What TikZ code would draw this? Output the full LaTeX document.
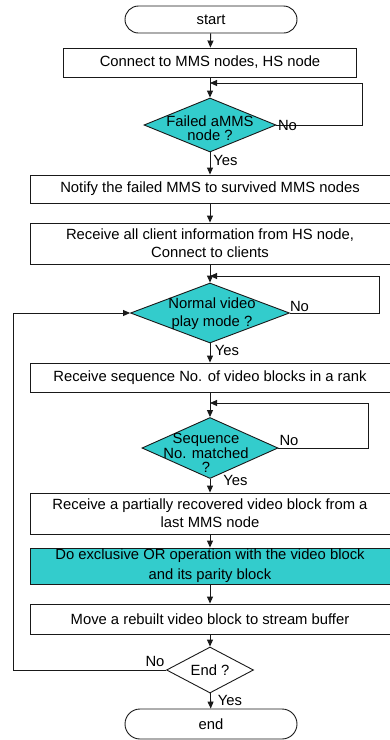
\documentclass[tikz,border=0pt]{standalone}
\usepackage{fontspec}
\setmainfont{Liberation Sans}
\usetikzlibrary{shapes.geometric,arrows.meta}
\definecolor{tealfill}{RGB}{51,204,204}
\begin{document}
\begin{tikzpicture}[x=1pt,y=-1pt,
  every node/.style={font=\fontsize{14.8}{18}\selectfont},
  line/.style={draw=black!90, line width=0.9pt},
  arr/.style={line, -{Triangle[length=7pt,width=6pt]}},
  procbox/.style={line, rectangle, inner sep=0pt, align=center, fill=white},
  hlbox/.style={procbox, fill=tealfill},
  term/.style={line, rectangle, inner sep=0pt, fill=white},
  diam/.style={line, diamond, inner sep=0pt, fill=tealfill},
  dtext/.style={align=center, inner sep=0pt, font=\fontsize{14.8}{14.2}\selectfont},
  lbl/.style={inner sep=0pt}
]
\useasboundingbox (0,0) rectangle (390,740);

% nodes
\node[term, rounded corners=13.5pt, minimum width=172pt, minimum height=27pt] (start) at (211,19.5) {start};
\node[procbox, minimum width=293pt, minimum height=29pt] (b1) at (210,62.5) {Connect to MMS nodes, HS node};
\node[diam, minimum width=132pt, minimum height=54pt] (d1) at (210,125) {};
\node[dtext] (d1t) at (210,128.5) {Failed aMMS\\node ?};
\node[procbox, minimum width=360pt, minimum height=28pt] (b2) at (210,189) {Notify the failed MMS to survived MMS nodes};
\node[procbox, minimum width=360pt, minimum height=41pt] (b3) at (210,243.5) {Receive all client information from HS node,\\Connect to clients};
\node[diam, minimum width=159pt, minimum height=60pt] (d2) at (210,313) {};
\node[dtext, font=\fontsize{14.8}{18.5}\selectfont] (d2t) at (212,313.5) {Normal video\\play mode ?};
\node[procbox, minimum width=360pt, minimum height=29pt] (b4) at (210,377.5) {Receive sequence No. of video blocks in a rank};
\node[diam, minimum width=136pt, minimum height=61pt] (d3) at (210,448) {};
\node[dtext, font=\fontsize{14.8}{14.5}\selectfont] (d3t) at (206,453) {Sequence\\No. matched\\?};
\node[procbox, minimum width=360pt, minimum height=41pt] (b5) at (210,513.5) {Receive a partially recovered video block from a\\last MMS node};
\node[hlbox, minimum width=360pt, minimum height=36pt, font=\fontsize{14.8}{20}\selectfont] (b6) at (210,566) {Do exclusive OR operation with the video block\\and its parity block};
\node[procbox, minimum width=360pt, minimum height=30pt] (b7) at (210,619) {Move a rebuilt video block to stream buffer};
\node[line, diamond, inner sep=0pt, fill=white, minimum width=87pt, minimum height=46pt] (e) at (210,670) {};
\node[dtext] (et) at (210,670) {End ?};
\node[term, rounded corners=15pt, minimum width=172pt, minimum height=30pt] (end) at (211,724) {end};

% helper coordinates
\coordinate (c1) at (362,83);
\coordinate (j1) at (210,83);
\coordinate (c2) at (379,276);
\coordinate (j2) at (210,276);
\coordinate (c3) at (368,403);
\coordinate (j3) at (210,403);
\coordinate (lx) at (13,313);

% connectors
\draw[arr] (start) -- (b1);
\draw[arr] (b1) -- (d1);
\draw[arr] (d1.east) -| (c1) -- (j1);
\draw[arr] (d1) -- (b2);
\draw[arr] (b2) -- (b3);
\draw[arr] (b3) -- (d2);
\draw[arr] (d2.east) -| (c2) -- (j2);
\draw[arr] (d2) -- (b4);
\draw[arr] (b4) -- (d3);
\draw[arr] (d3.east) -| (c3) -- (j3);
\draw[arr] (d3) -- (b5);
\draw[arr] (b5) -- (b6);
\draw[arr] (b6) -- (b7);
\draw[arr] (b7) -- (e);
\draw[arr] (e.west) -| (lx) -- (d2.west);
\draw[arr] (e) -- (end);

% labels
\node[lbl] (n1) at (287.5,125) {No};
\node[lbl] (y1) at (225.5,160) {Yes};
\node[lbl] (n2) at (299.5,306.5) {No};
\node[lbl] (y2) at (227,350) {Yes};
\node[lbl] (n3) at (289,440) {No};
\node[lbl] (y3) at (235.5,480.5) {Yes};
\node[lbl] (n4) at (155,661) {No};
\node[lbl] (y4) at (230,700.5) {Yes};
\end{tikzpicture}
\end{document}
